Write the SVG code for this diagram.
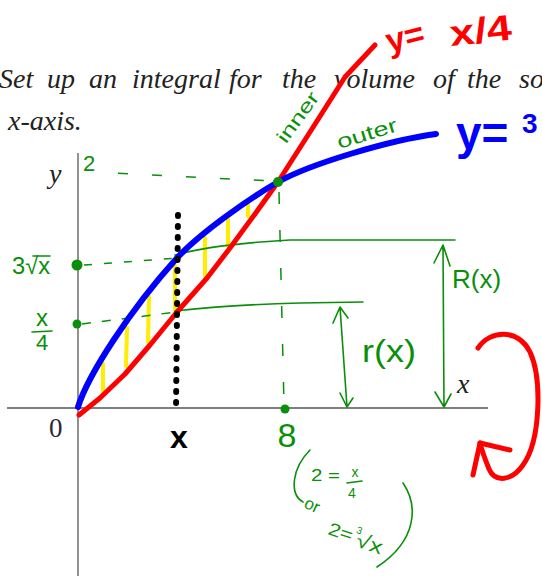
<svg xmlns="http://www.w3.org/2000/svg" width="542" height="576" viewBox="0 0 542 576">
<style>
.tb{font-family:"Liberation Serif","DejaVu Serif",serif;font-style:italic;font-size:28px;fill:#222}
.rm{font-family:"Liberation Serif","DejaVu Serif",serif;font-size:27px;fill:#2a2a3a}
.g{font-family:"Liberation Sans","DejaVu Sans",sans-serif;fill:#0a8f0a}
.gs{stroke:#0a8f0a;fill:none;stroke-width:1.6;stroke-linecap:round;stroke-linejoin:round}
.gd{stroke:#0a8f0a;fill:none;stroke-width:1.5;stroke-linecap:butt}
.gdot{fill:#0a8f0a}
.ax{stroke:#555;stroke-width:1.3;fill:none}
.red{stroke:#ff0000;fill:none;stroke-width:5;stroke-linecap:round;stroke-linejoin:round}
.blue{stroke:#0000ff;fill:none;stroke-width:6;stroke-linecap:round;stroke-linejoin:round}
.yel{stroke:#ffee00;stroke-width:4;stroke-linecap:round}
.hr{font-family:"Liberation Sans","DejaVu Sans",sans-serif;font-weight:bold;fill:#ff0000}
.hb{font-family:"Liberation Sans","DejaVu Sans",sans-serif;font-weight:bold;fill:#0000ff}
</style>
<rect width="542" height="576" fill="#ffffff"/>

<g id="problem-text">
<text class="tb" y="88"><tspan x="-1">Set</tspan><tspan x="47">up</tspan><tspan x="89">an</tspan><tspan x="132">integral</tspan><tspan x="229">for</tspan><tspan x="282">the</tspan><tspan x="334">volume</tspan><tspan x="433">of</tspan><tspan x="467">the</tspan><tspan x="519">so</tspan></text>
<text class="tb" x="8" y="130">x-axis.</text>
</g>

<g id="axes">
<line class="ax" x1="7" y1="408" x2="488" y2="408"/>
<line class="ax" x1="78" y1="153" x2="78" y2="576"/>
<text class="tb" x="49" y="183">y</text>
<text class="tb" x="457" y="393">x</text>
<text class="rm" x="49" y="437">0</text>
</g>

<g id="yellow-strips">
<line class="yel" x1="103" y1="364" x2="103" y2="392"/>
<line class="yel" x1="127" y1="328" x2="126" y2="366"/>
<line class="yel" x1="149" y1="297" x2="148" y2="342"/>
<line class="yel" x1="175" y1="266" x2="175" y2="310"/>
<line class="yel" x1="205" y1="238" x2="205" y2="276"/>
<line class="yel" x1="228" y1="219" x2="228" y2="246"/>
<line class="yel" x1="248" y1="203" x2="248" y2="216"/>
</g>

<g id="guides">
<path class="gd" d="M112,173 L272,181" stroke-dasharray="10 24" stroke-dashoffset="-6"/>
<path class="gd" d="M84,265 L178,258" stroke-dasharray="8 12"/>
<path class="gd" d="M82,324 L176,312" stroke-dasharray="9 11"/>
<path class="gd" d="M279,192 L284,405" stroke-dasharray="12 26"/>
<path class="gs" d="M175,255 Q215,244 290,240 L455,240"/>
<path class="gs" d="M175,311 Q225,305 300,303 L363,302"/>
</g>

<g id="curve-red">
<path class="red" d="M79,415 L100,398 L125,374 L150,345 L177,312 L207,278 L230,248 L255,214 L278,182 L310,132 L345,77 L375,45"/>
</g>
<g id="curve-blue">
<path class="blue" d="M78,407 C88,375 130,310 177,258 C200,233 250,198 278,182 C310,164 390,140 436,134"/>
</g>

<g id="slice-x">
<line x1="178" y1="215" x2="176" y2="410" stroke="#000" stroke-width="6" stroke-linecap="round" stroke-dasharray="1 10"/>
<text x="179" y="448" text-anchor="middle" font-family="Liberation Sans, DejaVu Sans, sans-serif" font-weight="bold" font-size="32" fill="#000">x</text>
</g>

<g id="points">
<circle class="gdot" cx="77" cy="265" r="5.5"/>
<circle class="gdot" cx="77" cy="324" r="4.5"/>
<circle class="gdot" cx="278" cy="182" r="5"/>
<circle class="gdot" cx="285" cy="409" r="4.5"/>
</g>

<g id="labels-y">
<text class="g" x="83" y="171" font-size="22">2</text>
<text class="g" x="12" y="274" font-size="24" textLength="38" lengthAdjust="spacingAndGlyphs">3√x</text>
<path class="gs" d="M33,256 L50,256" stroke-width="1.3"/>
<text class="g" x="42" y="326" font-size="24" text-anchor="middle">x</text>
<path class="gs" d="M32,332 L52,331"/>
<text class="g" x="42" y="350" font-size="22" text-anchor="middle">4</text>
<text class="g" x="287" y="447" font-size="34" text-anchor="middle">8</text>
</g>

<g id="radius-arrows">
<path class="gs" d="M443,245 L444,407 M434,263 L443,245 L450,266 M435,392 L444,407 L451,394"/>
<text class="g" x="452" y="288" font-size="26">R(x)</text>
<path class="gs" d="M340,307 L347,407 M333,323 L340,307 L348,318 M340,393 L347,407 L353,398"/>
<text class="g" x="362" y="362" font-size="31" textLength="54" lengthAdjust="spacingAndGlyphs">r(x)</text>
</g>

<g id="curve-names">
<text class="g" font-size="19" text-anchor="middle" textLength="58" lengthAdjust="spacingAndGlyphs" transform="translate(303,121) rotate(-54)">inner</text>
<text class="g" font-size="20" text-anchor="middle" textLength="62" lengthAdjust="spacingAndGlyphs" transform="translate(369,140) rotate(-17)">outer</text>
<text class="hr" font-size="34" transform="translate(389,53) rotate(-14)">y=</text>
<text class="hr" font-size="36" textLength="62" lengthAdjust="spacingAndGlyphs" transform="translate(451,46) rotate(-6)">x/4</text>
<text class="hb" x="456" y="149" font-size="46">y=</text>
<text class="hb" x="522" y="133" font-size="28">3</text>
</g>

<g id="rotation-arrow">
<path class="red" stroke-width="6" d="M478,348 C490,330 518,328 530,352 C542,378 541,440 523,465 C512,481 495,483 489,469 C485,459 482,451 480,443"/>
<path class="red" stroke-width="6" d="M473,475 L480,443 L510,450"/>
</g>

<g id="intersection-note">
<path class="gs" d="M310,450 C292,468 289,494 303,502"/>
<text class="g" x="311" y="481" font-size="16" textLength="29" lengthAdjust="spacingAndGlyphs">2 =</text>
<text class="g" x="355" y="477" font-size="14" text-anchor="middle">x</text>
<path class="gs" d="M347,483 L362,481" stroke-width="1.3"/>
<text class="g" x="352" y="498" font-size="14" text-anchor="middle">4</text>
<text class="g" font-size="17" transform="translate(303,507) rotate(25)">or</text>
<g transform="translate(327,534) rotate(18)">
<text class="g" x="0" y="0" font-size="18" textLength="25" lengthAdjust="spacingAndGlyphs">2=</text>
<text class="g" x="27" y="-10" font-size="10">3</text>
<text class="g" x="30" y="3" font-size="20" textLength="27" lengthAdjust="spacingAndGlyphs">√x</text>
</g>
<path class="gs" d="M403,483 C418,505 418,540 377,567"/>
</g>
</svg>
